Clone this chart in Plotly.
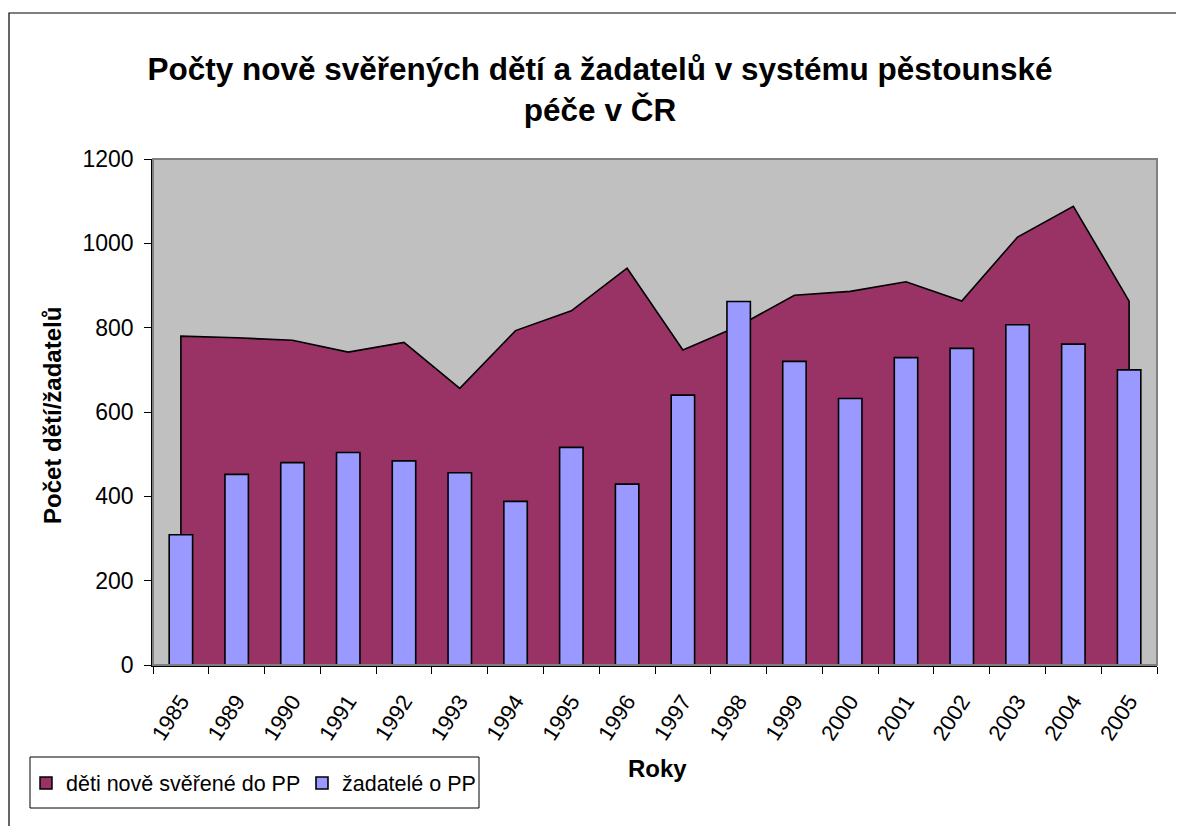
import plotly.graph_objects as go

years = ["1985", "1989", "1990", "1991", "1992", "1993", "1994", "1995", "1996",
         "1997", "1998", "1999", "2000", "2001", "2002", "2003", "2004", "2005"]
deti = [780, 776, 770, 742, 765, 656, 793, 840, 941,
        747, 804, 877, 886, 909, 863, 1015, 1088, 863]
zadatele = [309, 452, 480, 504, 484, 456, 388, 516, 429,
            640, 862, 720, 632, 729, 751, 807, 761, 700]

name_deti = "děti nově svěřené do PP"
name_zad = "žadatelé o PP"
title_text = "Počty nově svěřených dětí a žadatelů v systému pěstounské<br>péče v ČR"
y_title = "Počet dětí/žadatelů"
x_title = "Roky"

PURPLE = "#993366"
BLUE = "#9999FF"
FONT = "Liberation Sans, Arial, sans-serif"

W, H = 1176, 818          # page has an 8px body margin
PL, PT, PW, PH = 145, 151, 1004, 506


def px(xs):  # screen x -> paper x
    return (xs - 8 - PL) / PW


def py(ys):  # screen y -> paper y
    return (PT + PH - (ys - 8)) / PH


fig = go.Figure()

# area (closed polygon down to zero at both ends) on the lower subplot
fig.add_trace(go.Scatter(
    x=[years[0]] + years + [years[-1]],
    y=[0] + deti + [0],
    xaxis="x", yaxis="y",
    mode="lines", fill="toself", fillcolor=PURPLE,
    line=dict(color="black", width=1.6),
    showlegend=False, hoverinfo="skip", name=name_deti))

# legend entry for the area as a square
fig.add_trace(go.Bar(x=[None], y=[None], name=name_deti, xaxis="x2", yaxis="y2",
                     marker=dict(color=PURPLE, line=dict(color="black", width=1.5))))

# bars on an overlaid subplot so they are drawn above the area
fig.add_trace(go.Bar(x=years, y=zadatele, name=name_zad, width=0.42,
                     xaxis="x2", yaxis="y2",
                     marker=dict(color=BLUE, line=dict(color="black", width=1.6))))

axis_common_x = dict(type="category", range=[-0.5, 17.5], categoryarray=years,
                     categoryorder="array")

fig.update_layout(
    width=W, height=H,
    margin=dict(l=PL, r=W - PL - PW, t=PT, b=H - PT - PH),
    paper_bgcolor="white", plot_bgcolor="#C0C0C0",
    barmode="overlay",
    font=dict(family=FONT, color="black", size=22),
    title=dict(text="<b>" + title_text + "</b>", x=(600 - 8) / W, xanchor="center",
               y=1 - (80 - 8) / H, yanchor="middle",
               font=dict(family=FONT, size=31.5, color="black")),
    showlegend=True,
    legend=dict(orientation="h", x=px(26), y=py(783), xanchor="left", yanchor="middle",
                borderwidth=0, bgcolor="rgba(0,0,0,0)",
                entrywidth=231, entrywidthmode="pixels",
                font=dict(family=FONT, size=21.5, color="black"),
                traceorder="normal"),
    xaxis=dict(**axis_common_x, tickson="boundaries",
               ticks="outside", ticklen=7, tickcolor="black", tickwidth=1,
               showline=True, linecolor="black", linewidth=1.5,
               showgrid=False, zeroline=False, tickangle=-57,
               ticklabelstandoff=13, tickfont=dict(size=22)),
    yaxis=dict(range=[0, 1200], dtick=200, ticks="outside", ticklen=7,
               tickcolor="black", showline=True, linecolor="black", linewidth=1.5,
               showgrid=False, zeroline=False, ticklabelstandoff=6,
               tickfont=dict(size=23)),
    xaxis2=dict(**axis_common_x, overlaying="x", visible=False),
    yaxis2=dict(range=[0, 1200], overlaying="y", visible=False),
    shapes=[
        dict(type="rect", xref="paper", yref="paper", x0=0, x1=1, y0=0, y1=1,
             line=dict(color="#808080", width=2), layer="above"),
        dict(type="rect", xref="paper", yref="paper",
             x0=px(9), x1=px(1200), y0=py(840), y1=py(13),
             line=dict(color="black", width=1.2), layer="below"),
        dict(type="rect", xref="paper", yref="paper",
             x0=px(30), x1=px(479), y0=py(808), y1=py(757),
             line=dict(color="black", width=1), layer="below"),
    ],
    annotations=[
        dict(text="<b>" + y_title + "</b>", xref="paper", yref="paper",
             x=px(52), y=py(416), textangle=-90,
             showarrow=False, xanchor="center", yanchor="middle",
             font=dict(family=FONT, size=24, color="black")),
        dict(text="<b>" + x_title + "</b>", xref="paper", yref="paper",
             x=px(657), y=py(768),
             showarrow=False, xanchor="center", yanchor="middle",
             font=dict(family=FONT, size=24, color="black")),
    ],
)

fig.write_html("out.html")
